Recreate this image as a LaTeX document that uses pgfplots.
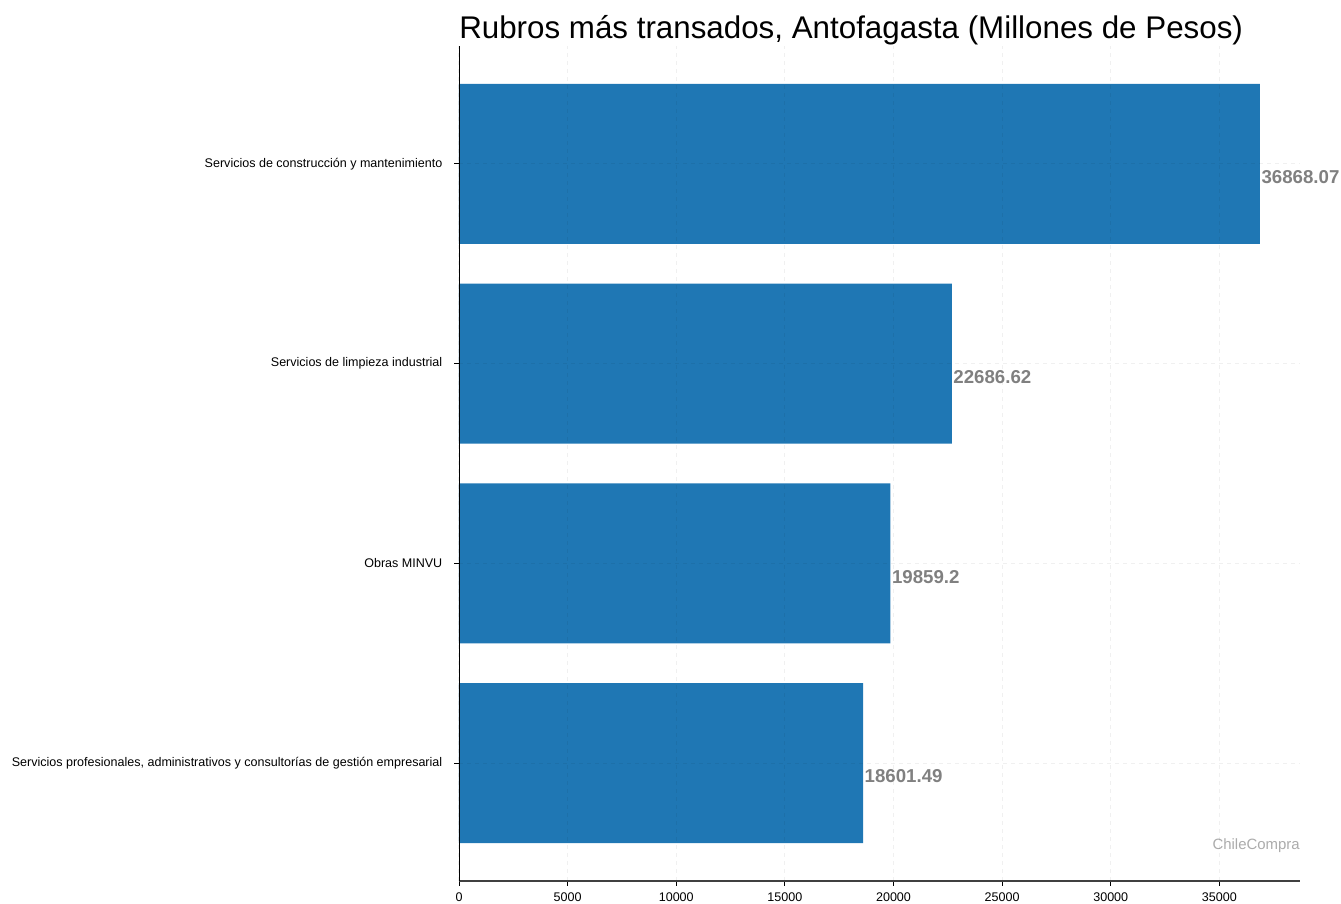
\documentclass[border=0pt]{standalone}
\usepackage{fontspec}
\setmainfont{Liberation Sans}
\usepackage{pgfplots}
\pgfplotsset{compat=1.18}
\definecolor{barblue}{HTML}{1F77B4}
\begin{document}
\begin{tikzpicture}
% picture frame in px*0.75, axis box lower left at origin
\path[use as bounding box] (-344.25pt,-16.5pt) rectangle (661.5pt,660.75pt);
\begin{axis}[
  at={(0,0)}, anchor=south west,
  scale only axis,
  width=630.75pt, height=626.25pt,
  xbar, bar width=0.8,
  xmin=0, xmax=38711.5,
  ymin=-0.59, ymax=3.59,
  axis x line*=bottom, axis y line*=left,
  x axis line style={black!75, line width=1pt},
  y axis line style={black, line width=0.6pt},
  xtick={0,5000,...,35000},
  ytick={0,1,2,3},
  yticklabels={Servicios profesionales{,} administrativos y consultorías de gestión empresarial,
    Obras MINVU, Servicios de limpieza industrial, Servicios de construcción y mantenimiento},
  tick align=outside,
  major tick length=3.5pt,
  tick style={black, line width=0.6pt},
  ticklabel style={font=\fontsize{9.4}{11}\selectfont},
  yticklabel style={xshift=-5.5pt},
  xticklabel style={yshift=-1.5pt},
  scaled x ticks=false,
  /pgf/number format/set thousands separator={},
  /pgf/number format/assume math mode=true,
  xmajorgrids, ymajorgrids,
  grid style={dashed, black, opacity=0.06, line width=0.8pt},
  axis on top,
  point meta=explicit symbolic,
  nodes near coords={\pgfplotspointmeta},
  nodes near coords style={anchor=west, inner xsep=1pt, yshift=-10pt,
    text=gray, font=\fontsize{14}{16}\selectfont\bfseries},
  clip=false,
]
\addplot[draw=none, fill=barblue] coordinates {
  (18601.49,0) [18601.49]
  (19859.2,1) [19859.2]
  (22686.62,2) [22686.62]
  (36868.07,3) [36868.07]
};
\node[anchor=base west, inner sep=0, yshift=5.5pt, font=\fontsize{23.5}{28}\selectfont]
  at (rel axis cs:0,1) {Rubros más transados, Antofagasta (Millones de Pesos)};
\node[anchor=base east, inner sep=0, yshift=24pt, text=black!33, font=\fontsize{11.2}{13}\selectfont]
  at (rel axis cs:1,0) {ChileCompra};
\end{axis}
\end{tikzpicture}
\end{document}
